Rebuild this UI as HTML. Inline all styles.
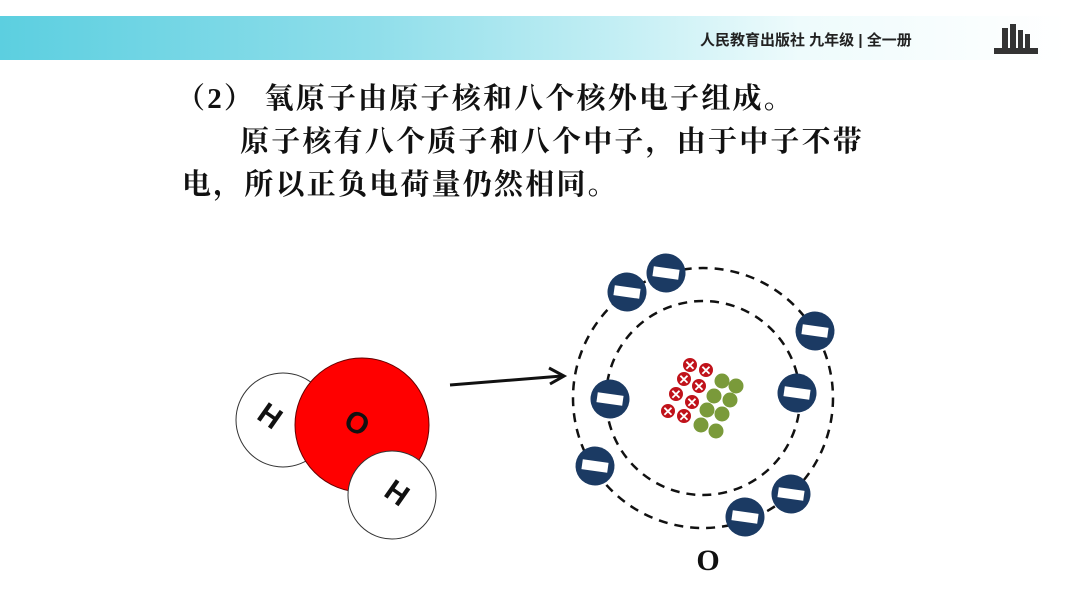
<!DOCTYPE html>
<html><head><meta charset="utf-8"><style>
body{margin:0;width:1066px;height:600px;background:#fff;overflow:hidden;position:relative;font-family:"Liberation Serif","Noto Serif CJK SC",serif}
.band{position:absolute;left:0;top:16px;width:1066px;height:44px;background:linear-gradient(90deg,#5ccfe0 0%,#8fdeea 35%,#c8f0f5 60%,#eefbfc 75%,#fff 100%)}
.pub{position:absolute;left:700px;top:29px;font:bold 15px "Liberation Sans","Noto Sans CJK SC",sans-serif;color:#222}
.t{position:absolute;font-size:29px;font-weight:bold;color:#111;white-space:nowrap;letter-spacing:2.2px}
</style></head><body>
<div class="band"></div>
<div class="pub">人民教育出版社 九年级 | 全一册</div>
<svg style="position:absolute;left:992px;top:22px" width="48" height="34"><rect x="2" y="26" width="44" height="6" fill="#333"/><rect x="10" y="6" width="6" height="20" fill="#333"/><rect x="18" y="2" width="6" height="24" fill="#333"/><rect x="26" y="8" width="5" height="18" fill="#333"/><rect x="33" y="12" width="5" height="14" fill="#333"/></svg>
<div class="t" style="left:176px;top:76px">（2） 氧原子由原子核和八个核外电子组成。</div>
<div class="t" style="left:240px;top:119px">原子核有八个质子和八个中子，由于中子不带</div>
<div class="t" style="left:182px;top:162px">电，所以正负电荷量仍然相同。</div>
<svg style="position:absolute;left:0;top:0" width="1066" height="600">
<circle cx="283" cy="420" r="47" fill="#fff" stroke="#333" stroke-width="1"/>
<circle cx="362" cy="425" r="67" fill="#f00" stroke="#600" stroke-width="1"/>
<circle cx="392" cy="495" r="44" fill="#fff" stroke="#333" stroke-width="1"/>
<g font-family="Liberation Sans,sans-serif" font-weight="bold" font-size="30" fill="#111" text-anchor="middle">
<text x="270" y="426" transform="rotate(35 270 416)">H</text>
<text x="357" y="433" transform="rotate(30 357 423)">O</text>
<text x="397" y="503" transform="rotate(35 397 493)">H</text></g>
<line x1="450" y1="385" x2="562" y2="376" stroke="#111" stroke-width="3"/>
<polyline points="549,368 564,376 550,384" fill="none" stroke="#111" stroke-width="3"/>
<circle cx="703" cy="398" r="130" fill="none" stroke="#111" stroke-width="2.5" stroke-dasharray="9,7"/>
<circle cx="703" cy="398" r="97" fill="none" stroke="#111" stroke-width="2.5" stroke-dasharray="9,7"/>
<g fill="#7a9a3a">
<circle cx="722" cy="381" r="7.5"/><circle cx="736" cy="386" r="7.5"/><circle cx="714" cy="396" r="7.5"/><circle cx="730" cy="400" r="7.5"/><circle cx="707" cy="410" r="7.5"/><circle cx="722" cy="414" r="7.5"/><circle cx="701" cy="425" r="7.5"/><circle cx="716" cy="431" r="7.5"/></g>
<g fill="#c0121a" stroke="#fff" stroke-width="1">
<circle cx="690" cy="365" r="7.5"/><circle cx="706" cy="370" r="7.5"/><circle cx="684" cy="379" r="7.5"/><circle cx="699" cy="386" r="7.5"/><circle cx="676" cy="394" r="7.5"/><circle cx="692" cy="402" r="7.5"/><circle cx="668" cy="411" r="7.5"/><circle cx="684" cy="416" r="7.5"/></g>
<g fill="#fff" font-family="Liberation Sans,sans-serif" font-weight="bold" font-size="13" text-anchor="middle">
<text x="690" y="370">✕</text><text x="706" y="375">✕</text><text x="684" y="384">✕</text><text x="699" y="391">✕</text><text x="676" y="399">✕</text><text x="692" y="407">✕</text><text x="668" y="416">✕</text><text x="684" y="421">✕</text></g>
<g>
<g transform="translate(627,292) rotate(8)"><circle r="19.5" fill="#1b3a63"/><rect x="-13" y="-5" width="26" height="10" fill="#fff"/></g>
<g transform="translate(666,273) rotate(8)"><circle r="19.5" fill="#1b3a63"/><rect x="-13" y="-5" width="26" height="10" fill="#fff"/></g>
<g transform="translate(815,331) rotate(8)"><circle r="19.5" fill="#1b3a63"/><rect x="-13" y="-5" width="26" height="10" fill="#fff"/></g>
<g transform="translate(610,399) rotate(8)"><circle r="19.5" fill="#1b3a63"/><rect x="-13" y="-5" width="26" height="10" fill="#fff"/></g>
<g transform="translate(797,393) rotate(8)"><circle r="19.5" fill="#1b3a63"/><rect x="-13" y="-5" width="26" height="10" fill="#fff"/></g>
<g transform="translate(595,466) rotate(8)"><circle r="19.5" fill="#1b3a63"/><rect x="-13" y="-5" width="26" height="10" fill="#fff"/></g>
<g transform="translate(791,494) rotate(8)"><circle r="19.5" fill="#1b3a63"/><rect x="-13" y="-5" width="26" height="10" fill="#fff"/></g>
<g transform="translate(745,517) rotate(8)"><circle r="19.5" fill="#1b3a63"/><rect x="-13" y="-5" width="26" height="10" fill="#fff"/></g>
</g>
<text x="708" y="570" text-anchor="middle" font-family="Liberation Serif,serif" font-weight="bold" font-size="30" fill="#111">O</text>
</svg>
</body></html>
